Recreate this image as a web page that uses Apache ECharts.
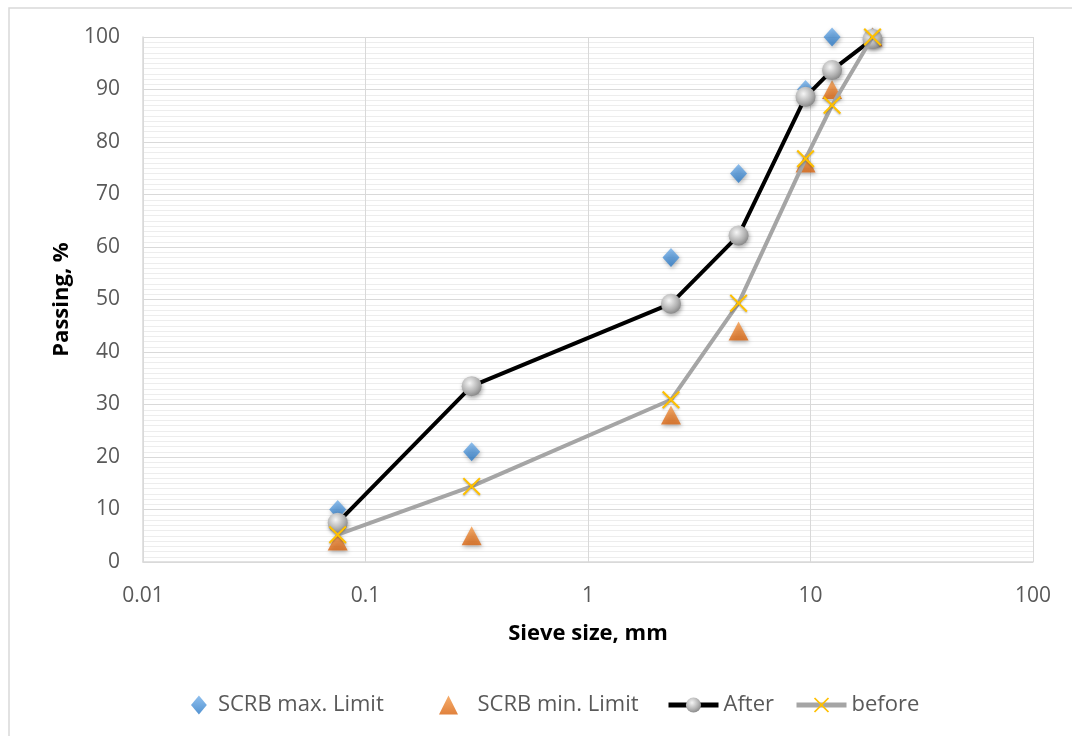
<!DOCTYPE html>
<html><head><meta charset="utf-8">
<script src="https://cdn.jsdelivr.net/npm/echarts@6/dist/echarts.min.js"></script>
<style>html,body{margin:0;padding:0;background:#fff}#c{width:1072px;height:736px}</style>
</head><body><div id="c"></div>
<script>
const sieveSizes = [0.075, 0.3, 2.36, 4.75, 9.5, 12.5, 19];
const maxLimit = [10, 21, 58, 74, 90, 100, 100];
const minLimit = [4, 5, 28, 44, 76, 90, 100];
const afterVals = [7.5, 33.5, 49.2, 62.2, 88.6, 93.7, 99.6];
const beforeVals = [5.2, 14.4, 30.9, 49.3, 76.8, 87, 100];
const xTicks = [0.01, 0.1, 1, 10, 100];
const seriesNames = ['SCRB max. Limit', 'SCRB min. Limit', 'After', 'before'];

const pair = v => sieveSizes.map((x, i) => [x, v[i]]);
const FONT = 'Open Sans';
const diamondPath = 'path://M5,0 L10,6 L5,12 L0,6 Z';
const trianglePath = 'path://M5,0 L10,10 L0,10 Z';
const xPath = 'path://M0,0.8 L0.8,0 L5,4.2 L9.2,0 L10,0.8 L5.8,5 L10,9.2 L9.2,10 L5,5.8 L0.8,10 L0,9.2 L4.2,5 Z';
const shadow = {shadowBlur: 4, shadowColor: 'rgba(0,0,0,0.35)', shadowOffsetX: 1, shadowOffsetY: 2};
const blueFill = {type: 'linear', x: 0, y: 0, x2: 0, y2: 1,
  colorStops: [{offset: 0, color: '#74b0ea'}, {offset: 1, color: '#2878c6'}]};
const orangeFill = {type: 'linear', x: 0, y: 0, x2: 0, y2: 1,
  colorStops: [{offset: 0, color: '#f59a48'}, {offset: 1, color: '#d9620c'}]};
const greyBall = {type: 'radial', x: 0.4, y: 0.35, r: 0.75,
  colorStops: [{offset: 0, color: '#f5f5f5'}, {offset: 0.6, color: '#b0b0b0'}, {offset: 1, color: '#7a7a7a'}]};

const legendText = {fontFamily: FONT, fontSize: 22, color: '#595959'};
function mkLegend(name, left, w, extra) {
  return Object.assign({top: 694, left: left, itemWidth: w, itemHeight: 19, padding: 0,
    textStyle: legendText, data: [Object.assign({name: name}, extra || {})]});
}

const chart = echarts.init(document.getElementById('c'), null, {renderer: 'canvas'});
chart.setOption({
  animation: false,
  backgroundColor: '#fff',
  graphic: [{type: 'rect', shape: {x: 9, y: 8, width: 1100, height: 800},
    style: {fill: 'none', stroke: '#d9d9d9', lineWidth: 1.5}, z: -1}],
  grid: {left: 143, top: 37, right: 39, bottom: 174, containLabel: false},
  xAxis: {
    type: 'log', logBase: 10, min: xTicks[0], max: xTicks[xTicks.length - 1],
    name: 'Sieve size, mm', nameLocation: 'middle', nameGap: 61,
    nameTextStyle: {fontFamily: FONT, fontWeight: 'bold', fontSize: 22, color: '#000'},
    axisLine: {show: true, lineStyle: {color: '#d9d9d9', width: 1.5}},
    axisTick: {show: false},
    axisLabel: {fontFamily: FONT, fontSize: 21, color: '#595959', margin: 24,
      formatter: v => { const m = xTicks.find(t => Math.abs(t - v) / t < 1e-6); return m !== undefined ? String(m) : ''; }},
    splitLine: {show: true, lineStyle: {color: '#d9d9d9', width: 1}},
    minorTick: {show: false}
  },
  yAxis: {
    type: 'value', min: 0, max: 100, interval: 10,
    name: 'Passing, %', nameLocation: 'middle', nameGap: 70, nameRotate: 90,
    nameTextStyle: {fontFamily: FONT, fontWeight: 'bold', fontSize: 22, color: '#000'},
    axisLine: {show: true, lineStyle: {color: '#d9d9d9', width: 1.5}},
    axisTick: {show: false},
    axisLabel: {fontFamily: FONT, fontSize: 21, color: '#595959', margin: 23},
    splitLine: {show: true, lineStyle: {color: '#d9d9d9', width: 1}},
    minorTick: {show: false, splitNumber: 10},
    minorSplitLine: {show: true, lineStyle: {color: '#ededed', width: 1}}
  },
  legend: [
    mkLegend(seriesNames[0], 191, 28, {icon: diamondPath, itemStyle: {color: blueFill}}),
    mkLegend(seriesNames[1], 439, 48, {icon: trianglePath, itemStyle: {color: orangeFill}}),
    mkLegend(seriesNames[2], 666, 50, {lineStyle: {width: 5, color: '#000'}}),
    mkLegend(seriesNames[3], 794, 50, {lineStyle: {width: 5, color: '#a5a5a5'}})
  ],
  series: [
    {name: seriesNames[0], type: 'scatter', data: pair(maxLimit), symbol: diamondPath, symbolSize: [17, 19],
      itemStyle: Object.assign({color: blueFill}, shadow), z: 2},
    {name: seriesNames[1], type: 'scatter', data: pair(minLimit), symbol: trianglePath, symbolSize: [20, 19],
      itemStyle: Object.assign({color: orangeFill}, shadow), z: 3},
    {name: seriesNames[2], type: 'line', data: pair(afterVals), symbol: 'circle', symbolSize: 20,
      lineStyle: {color: '#000', width: 4},
      itemStyle: Object.assign({color: greyBall, borderWidth: 0}, shadow), z: 4},
    {name: seriesNames[3], type: 'line', data: pair(beforeVals), symbol: xPath, symbolSize: 18,
      lineStyle: {color: '#a5a5a5', width: 4},
      itemStyle: {color: '#ffc000', borderWidth: 0, shadowBlur: 2, shadowColor: 'rgba(0,0,0,0.3)', shadowOffsetY: 1}, z: 5}
  ]
});
</script></body></html>
